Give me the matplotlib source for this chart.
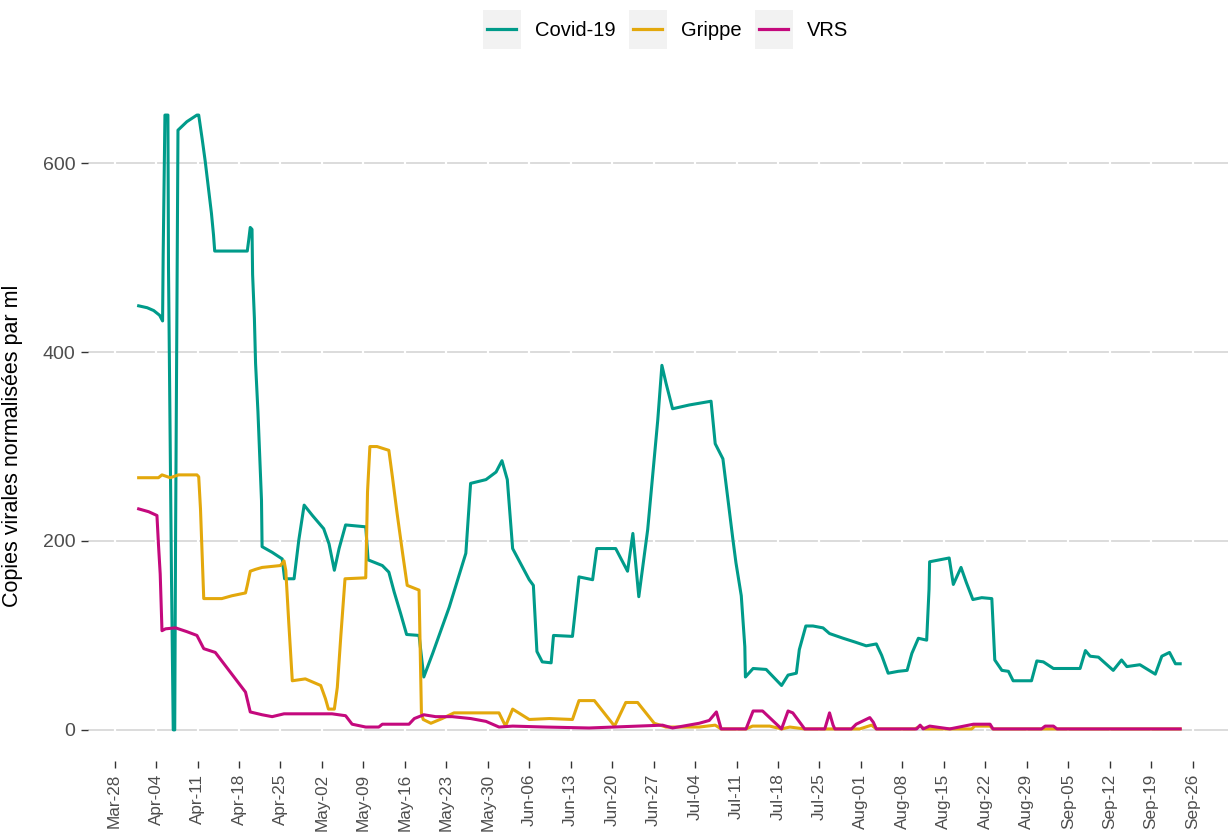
import numpy as np
import pandas as pd
import matplotlib
matplotlib.use('Agg')
import matplotlib.pyplot as plt
import matplotlib.dates as mdates
from matplotlib.patches import Rectangle
from matplotlib.lines import Line2D

plt.rcParams['font.family'] = ['Liberation Sans', 'DejaVu Sans']

START = '2022-03-28'

# days after Mar-28 and values (copies virales normalisées par ml)
covid_day = [4.06, 5.5, 6.6, 7.6, 8.1, 8.2, 8.35, 8.5, 9.0, 9.1, 9.35, 9.6, 9.9, 10.15, 10.3,
             10.5, 10.7, 12.2, 13.9, 14.2, 14.8, 15.3, 15.9, 16.35, 16.7, 16.9, 22.4, 22.65,
             22.9, 23.2, 23.3, 23.6, 23.8, 24.2, 24.5, 24.8, 24.9, 26.6, 28.3, 28.7, 30.3,
             31.1, 32.0, 33.4, 35.3, 36.2, 37.1, 37.9, 39.0, 42.4, 42.8, 45.2, 46.3, 47.2,
             48.3, 49.3, 51.4, 52.2, 53.7, 56.5, 59.3, 60.1, 62.7, 64.4, 65.4, 66.3, 67.2,
             70.0, 70.7, 71.3, 72.2, 73.7, 74.1, 77.3, 78.4, 80.7, 81.4, 84.6, 86.6, 87.5,
             88.5, 90.0, 91.7, 92.4, 93.1, 94.2, 97.0, 100.7, 101.4, 102.7, 104.4, 104.9,
             105.8, 106.4, 106.5, 107.8, 110.0, 112.6, 113.7, 115.1, 115.6, 116.7, 117.9,
             119.6, 120.7, 123.0, 125.0, 126.9, 128.6, 129.5, 130.6, 132.3, 133.8, 134.6,
             135.7, 137.1, 137.5, 137.6, 139.3, 140.9, 141.6, 142.4, 142.9, 143.8, 144.9,
             146.4, 148.1, 148.6, 149.8, 150.9, 151.7, 154.8, 155.7, 156.8, 158.5, 163.0,
             163.9, 164.7, 166.1, 168.6, 170.0, 170.9, 173.1, 175.7, 176.8, 178.1, 179.1, 179.9]
covid_val = [449, 447, 444, 439, 433, 503, 577, 651, 651, 489, 326, 164, 0, 0, 210,
             423, 635, 644, 651, 651, 625, 602, 570, 547, 524, 507, 507, 519,
             532, 530, 482, 436, 388, 337, 289, 243, 194, 188, 181, 160, 160,
             201, 238, 227, 213, 197, 169, 192, 217, 215, 180, 174, 167, 146,
             123, 101, 100, 56, 81, 130, 187, 261, 265, 273, 285, 265, 192,
             159, 153, 83, 72, 71, 100, 99, 162, 159, 192, 192, 168, 208,
             141, 212, 328, 386, 367, 340, 344, 348, 303, 287, 201, 177,
             142, 88, 56, 65, 64, 47, 58, 60, 85, 110, 110,
             108, 102, 97, 93, 89, 91, 79, 60, 62, 63, 81,
             97, 95, 149, 178, 180, 182, 154, 165, 172, 156, 138,
             140, 139, 74, 63, 62, 52, 52, 73, 72, 65, 65,
             84, 78, 77, 63, 74, 67, 69, 59, 78, 82, 70, 70]

grippe_day = [4.06, 7.4, 8.0, 9.4, 10.8, 13.9, 14.2, 14.5, 15.05, 18.1, 19.8, 22.1, 22.4,
              22.9, 23.8, 24.9, 28.0, 28.6, 28.9, 29.4, 30.0, 32.2, 34.8, 35.6, 36.1, 37.1,
              37.6, 38.2, 38.9, 42.4, 42.7, 43.1, 44.3, 46.3, 46.9, 47.7, 48.6, 49.4, 51.4,
              51.8, 52.1, 53.4, 55.3, 57.3, 64.9, 66.0, 67.2, 70.0, 73.4, 77.3, 78.4, 81.0,
              84.4, 86.3, 88.3, 91.1, 93.1, 98.7, 101.4, 102.4, 106.6, 107.7, 110.6, 112.6,
              114.0, 116.5, 125.8, 127.8, 128.6, 135.1, 136.0, 136.8, 144.7, 145.2, 147.8,
              148.3, 179.9]
grippe_val = [267, 267, 270, 267, 270, 270, 268, 234, 139, 139, 142, 145, 153,
              168, 170, 172, 174, 179, 169, 114, 52, 54, 47, 33, 22, 22,
              45, 100, 160, 161, 252, 300, 300, 296, 268, 229, 188, 153, 148,
              18, 11, 7, 12, 18, 18, 4, 22, 11, 12, 11, 31, 31,
              4, 29, 29, 7, 3, 3, 5, 1, 1, 4, 4, 1,
              3, 1, 1, 5, 1, 1, 4, 1, 1, 4, 4,
              1, 1]

vrs_day = [4.06, 5.75, 7.15, 7.4, 7.7, 8.0, 8.6, 10.3, 12.2, 13.9, 15.05, 17.0, 18.7, 20.4,
           22.1, 22.9, 24.9, 26.6, 28.6, 36.7, 39.0, 40.1, 42.4, 44.6, 45.2, 49.7, 50.6,
           52.2, 54.2, 57.0, 60.1, 62.7, 64.9, 67.2, 72.8, 80.1, 86.3, 92.5, 94.2, 98.7,
           100.4, 101.6, 102.4, 106.6, 107.8, 109.4, 112.6, 113.7, 114.5, 116.5, 119.9,
           120.7, 121.3, 121.6, 124.4, 125.2, 127.5, 128.1, 128.6, 135.4, 136.0, 136.5,
           137.6, 141.0, 145.0, 147.8, 148.3, 156.5, 157.1, 158.5, 159.1, 179.9]
vrs_val = [234, 231, 227, 197, 165, 105, 107, 108, 104, 100, 86, 82, 68, 54,
           40, 19, 16, 14, 17, 17, 15, 6, 3, 3, 6, 6, 12,
           16, 14, 14, 12, 9, 3, 4, 3, 2, 3.5, 5, 2, 7,
           10, 19, 1, 1, 20, 20, 1, 20, 18, 1, 1,
           18, 5, 1, 1, 6, 13, 8, 1, 1, 5, 1,
           4, 1, 6, 6, 1, 1, 4, 4, 1, 1]

series = ['Covid-19', 'Grippe', 'VRS']
colors = ['#009B8A', '#E3A80C', '#C4097D']


def to_dates(days):
  return pd.Timestamp(START) + pd.to_timedelta(np.array(days), unit='D')


class KeyHandler:
  """grey square key with a short coloured line, like ggplot"""
  def legend_artist(self, legend, orig_handle, fontsize, handlebox):
    x0, y0 = handlebox.xdescent, handlebox.ydescent
    w, h = handlebox.width, handlebox.height
    rect = Rectangle((-x0, -y0), w, h, facecolor='#F2F2F2', edgecolor='none',
                     transform=handlebox.get_transform())
    line = Line2D([-x0 + 0.12 * w, -x0 + 0.88 * w], [-y0 + h / 2] * 2,
                  color=orig_handle.get_color(), lw=2.3,
                  transform=handlebox.get_transform())
    handlebox.add_artist(rect)
    handlebox.add_artist(line)
    return rect


fig = plt.figure(figsize=(12.3, 8.4), dpi=100)
ax = fig.add_axes([0.0715, 0.094, 0.927, 0.805])

lines = []
for name, d, v, c in zip(series, [covid_day, grippe_day, vrs_day],
                         [covid_val, grippe_val, vrs_val], colors):
  ln, = ax.plot(to_dates(d), v, color=c, lw=2.2, label=name, zorder=3)
  lines.append(ln)

# weekly ticks
weeks = pd.date_range(START, periods=27, freq='7D')
ax.set_xticks(weeks)
ax.xaxis.set_major_formatter(mdates.DateFormatter('%b-%d'))
ax.set_xlim(pd.Timestamp(START) - pd.Timedelta(days=4.5),
            pd.Timestamp(START) + pd.Timedelta(days=188))
ax.set_ylim(-33, 683)
ax.set_yticks([0, 200, 400, 600])

# grid: grey horizontal, white vertical breaks at the weeks
ax.grid(axis='y', color='#D9D9D9', lw=1.3, zorder=1)
for w in weeks:
  ax.axvline(w, color='white', lw=1.6, zorder=1.6)

for s in ax.spines.values():
  s.set_visible(False)

ax.tick_params(axis='x', rotation=90, labelsize=12.3, labelcolor='#4D4D4D',
               color='#333333', length=5, width=1, pad=4, direction='out')
ax.tick_params(axis='y', labelsize=14, labelcolor='#4D4D4D',
               color='#333333', length=5, width=1, pad=4)

ax.set_ylabel('Copies virales normalisées par ml', fontsize=15.5)
ax.yaxis.set_label_coords(-0.057, 0.466)

fig.legend(lines, series, handler_map={Line2D: KeyHandler()},
           loc='center', bbox_to_anchor=(0.541, 0.965), ncol=3, frameon=False,
           fontsize=14.5, handlelength=1.9, handleheight=2.55,
           handletextpad=0.7, columnspacing=0.65)

fig.savefig('out.png', dpi=100)
plt.close()
